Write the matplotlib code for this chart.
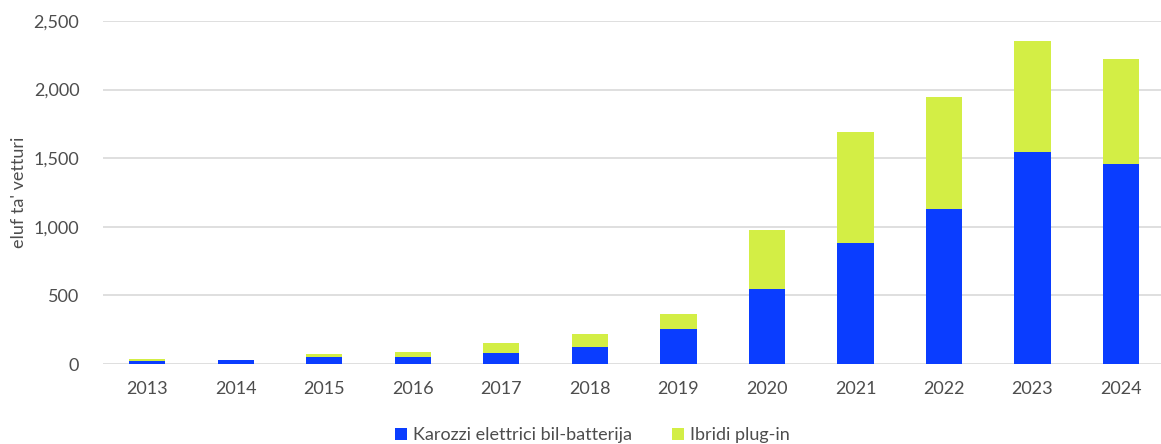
from matplotlib import pyplot as plt
import numpy as np

# registrazzjonijiet ta' karozzi elettriċi (eluf)
years = ['2013', '2014', '2015', '2016', '2017', '2018', '2019', '2020', '2021', '2022', '2023', '2024']
bev = [25, 28, 55, 53, 78, 128, 255, 544, 884, 1130, 1548, 1458]
phev = [15, 3, 15, 32, 78, 94, 110, 433, 809, 818, 809, 765]

plt.rcParams['font.family'] = ['Lato', 'DejaVu Sans']

blue = '#0A3DFF'
green = '#D3EE45'
grey = '#4D4D4D'

fig = plt.figure(figsize=(11.61, 4.44), dpi=100)
ax = fig.add_axes([0.0887, 0.18, 0.915, 0.7727])

x = np.arange(len(years))
w = 0.41
ax.bar(x, bev, w, color=blue, label='Karozzi elettrici bil-batterija', zorder=3)
ax.bar(x, phev, w, bottom=bev, color=green, label='Ibridi plug-in', zorder=3)

ax.set_xlim(-0.5, 11.5)
ax.set_ylim(0, 2500)
ax.set_yticks(range(0, 2501, 500))
ax.set_yticklabels(['{:,}'.format(v) for v in range(0, 2501, 500)])
ax.set_xticks(x)
ax.set_xticklabels(years)
ax.grid(axis='y', color='#D9D9D9', linewidth=1.2, zorder=0)
for s in ax.spines.values():
    s.set_visible(False)
ax.tick_params(length=0, colors=grey, labelsize=13)
ax.tick_params(axis='y', pad=17)
ax.tick_params(axis='x', pad=12)
ax.set_ylabel("eluf ta' vetturi", color=grey, fontsize=13, labelpad=5)

fig.legend(loc='lower center', bbox_to_anchor=(0.51, -0.035), ncol=2, frameon=False,
           fontsize=13, handlelength=0.7, handleheight=0.7, handletextpad=0.3,
           columnspacing=2.2, labelcolor=grey)

plt.savefig('out.png', dpi=100)
